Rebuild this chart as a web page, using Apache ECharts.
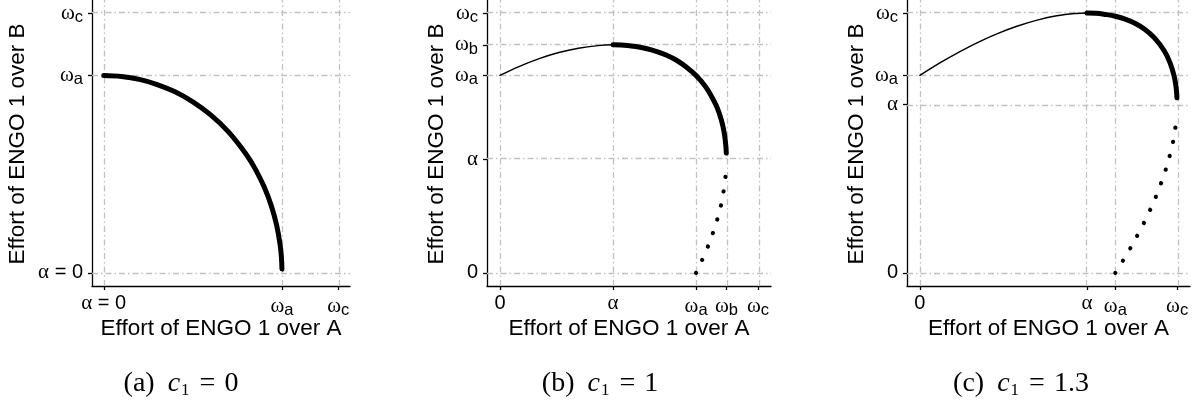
<!DOCTYPE html>
<html>
<head>
<meta charset="utf-8">
<script src="https://cdn.jsdelivr.net/npm/echarts@6/dist/echarts.min.js"></script>
<style>
html, body { margin: 0; padding: 0; background: #fff; }
#chart { width: 1198px; height: 405px; }
</style>
</head>
<body>
<div id="chart"></div>
<script>
// tick positions, same scale on all three panels (omega_a = 1)
const omegaA = 1
const omegaB = 1.155
const omegaC = 1.316
const alphaB = 0.577
const alphaC = 0.855
const axisMin = -0.066
const axisMax = 1.382

const ticksA = [0, omegaA, omegaC]
const labelsA = ['α = 0', 'ωa', 'ωc']
const ticksB = [0, alphaB, omegaA, omegaB, omegaC]
const labelsB = ['0', 'α', 'ωa', 'ωb', 'ωc']
const ticksC = [0, alphaC, omegaA, omegaC]
const labelsC = ['0', 'α', 'ωa', 'ωc']

// (a) c1 = 0
const frontierA = [[0, 1], [0.1, 0.995], [0.2, 0.98], [0.3, 0.954], [0.4, 0.917], [0.5, 0.866], [0.6, 0.8],
  [0.7, 0.714], [0.8, 0.6], [0.85, 0.527], [0.9, 0.436], [0.94, 0.341], [0.97, 0.243], [0.99, 0.141],
  [0.997, 0.08], [1.0, 0.02]]

// (b) c1 = 1
const thinB = [[0, 1], [0.1, 1.046], [0.2, 1.085], [0.3, 1.116], [0.4, 1.138], [0.5, 1.151], [0.577, 1.155]]
const thickB = [[0.577, 1.155], [0.65, 1.152], [0.7, 1.145], [0.75, 1.135], [0.8, 1.121], [0.85, 1.102],
  [0.9, 1.077], [0.95, 1.043], [1.0, 1.0], [1.05, 0.941], [1.1, 0.854], [1.12, 0.803], [1.135, 0.751],
  [1.145, 0.7], [1.152, 0.64], [1.154, 0.607]]
const dottedB = [[1, 0], [1.046, 0.1], [1.085, 0.2], [1.116, 0.3], [1.138, 0.4], [1.15, 0.49]]

// (c) c1 = 1.3
const thinC = [[0, 1], [0.1, 1.062], [0.2, 1.118], [0.3, 1.169], [0.4, 1.213], [0.5, 1.25], [0.6, 1.28],
  [0.7, 1.302], [0.8, 1.314], [0.855, 1.316]]
const thickC = [[0.855, 1.316], [0.9, 1.315], [0.95, 1.309], [1.0, 1.3], [1.05, 1.285], [1.1, 1.264],
  [1.15, 1.234], [1.2, 1.19], [1.25, 1.125], [1.28, 1.064], [1.3, 1.0], [1.31, 0.946], [1.313, 0.92],
  [1.315, 0.887]]
const dottedC = [[1, 0], [1.062, 0.1], [1.118, 0.2], [1.169, 0.3], [1.213, 0.4], [1.25, 0.5], [1.28, 0.6],
  [1.302, 0.7], [1.314, 0.806]]

const sans = 'Liberation Sans, Arial, sans-serif'
const serif = 'Liberation Serif, Times New Roman, serif'

const labelRich = {
  t: { fontFamily: sans, fontSize: 20, color: '#000' },
  g: { fontFamily: serif, fontSize: 21, color: '#000' },
  s: { fontFamily: sans, fontSize: 16.5, color: '#000', padding: [9, 0, 0, 0] }
}

function richLabel(text) {
  if (text[0] === 'ω') {
    return '{g|ω}{s|' + text.slice(1) + '}'
  }
  if (text[0] === 'α') {
    return '{g|α}' + (text.length > 1 ? '{t|' + text.slice(1) + '}' : '')
  }
  return '{t|' + text + '}'
}

function labelFormatter(ticks, labels) {
  return (value) => {
    const i = ticks.findIndex((t) => Math.abs(t - value) < 1e-6)
    return i < 0 ? '' : richLabel(labels[i])
  }
}

function makeAxis(gridIndex, ticks, labels, margin) {
  return {
    type: 'value',
    gridIndex,
    min: axisMin,
    max: axisMax,
    axisLine: { show: true, onZero: false, lineStyle: { color: '#000', width: 1.3 } },
    axisTick: { show: true, customValues: ticks, length: 4, lineStyle: { color: '#000', width: 1.3 } },
    axisLabel: { customValues: ticks, margin, formatter: labelFormatter(ticks, labels), rich: labelRich },
    splitLine: { show: false }
  }
}

function gridLines(xTicks, yTicks) {
  return {
    silent: true,
    symbol: 'none',
    z: 1,
    animation: false,
    label: { show: false },
    lineStyle: { color: '#c2c2c2', width: 1.3, type: [6, 3, 1.5, 3] },
    data: xTicks.map((v) => ({ xAxis: v })).concat(yTicks.map((v) => ({ yAxis: v })))
  }
}

function curve(axisIndex, data, width, extra) {
  return Object.assign({
    type: 'line',
    xAxisIndex: axisIndex,
    yAxisIndex: axisIndex,
    data,
    showSymbol: false,
    smooth: 0.4,
    z: 3,
    lineStyle: { color: '#000', width, cap: 'round', join: 'round' }
  }, extra || {})
}

const dotStyle = { color: '#000', width: 4.2, cap: 'round', type: [0.1, 14.3] }

const chart = echarts.init(document.getElementById('chart'))

const titleStyle = { fontFamily: sans, fontSize: 22.5, fill: '#000', align: 'center', verticalAlign: 'middle' }
const captionRich = {
  r: { fontFamily: serif, fontSize: 28, color: '#000' },
  i: { fontFamily: serif, fontSize: 28, fontStyle: 'italic', color: '#000', padding: [0, 0, 0, 13] },
  s: { fontFamily: serif, fontSize: 17, color: '#000', padding: [13, 0, 0, 1] },
  e: { fontFamily: serif, fontSize: 28, color: '#000', padding: [0, 9, 0, 10] }
}

function xTitle(x) {
  return { type: 'text', x, y: 329, style: Object.assign({ text: 'Effort of ENGO 1 over A' }, titleStyle) }
}
function yTitle(x) {
  return { type: 'text', x, y: 144, rotation: Math.PI / 2, style: Object.assign({ text: 'Effort of ENGO 1 over B' }, titleStyle) }
}
function caption(x, letter, value) {
  return {
    type: 'text', x, y: 384,
    style: { text: '{r|(' + letter + ')}{i|c}{s|1}{e|=}{r|' + value + '}', rich: captionRich, align: 'center', verticalAlign: 'middle' }
  }
}

chart.setOption({
  animation: false,
  grid: [
    { left: 92, top: 0, width: 258, height: 286, outerBoundsMode: 'none' },
    { left: 487, top: 0, width: 284, height: 286, outerBoundsMode: 'none' },
    { left: 907, top: 0, width: 283, height: 286, outerBoundsMode: 'none' }
  ],
  xAxis: [
    makeAxis(0, ticksA, labelsA, 7),
    makeAxis(1, ticksB, labelsB, 7),
    makeAxis(2, ticksC, labelsC, 7)
  ],
  yAxis: [
    makeAxis(0, ticksA, labelsA, 9),
    makeAxis(1, ticksB, labelsB, 9),
    makeAxis(2, ticksC, labelsC, 9)
  ],
  series: [
    curve(0, frontierA, 5, { markLine: gridLines(ticksA, ticksA) }),
    curve(1, thinB, 1.5, { markLine: gridLines(ticksB, ticksB) }),
    curve(1, thickB, 5),
    curve(1, dottedB, 4.2, { lineStyle: dotStyle }),
    curve(2, thinC, 1.5, { markLine: gridLines(ticksC, ticksC) }),
    curve(2, thickC, 5),
    curve(2, dottedC, 4.2, { lineStyle: dotStyle })
  ],
  graphic: [
    xTitle(221), xTitle(629), xTitle(1048.5),
    yTitle(18), yTitle(437), yTitle(857),
    caption(181, 'a', '0'), caption(600, 'b', '1'), caption(1021, 'c', '1.3')
  ]
})
</script>
</body>
</html>
